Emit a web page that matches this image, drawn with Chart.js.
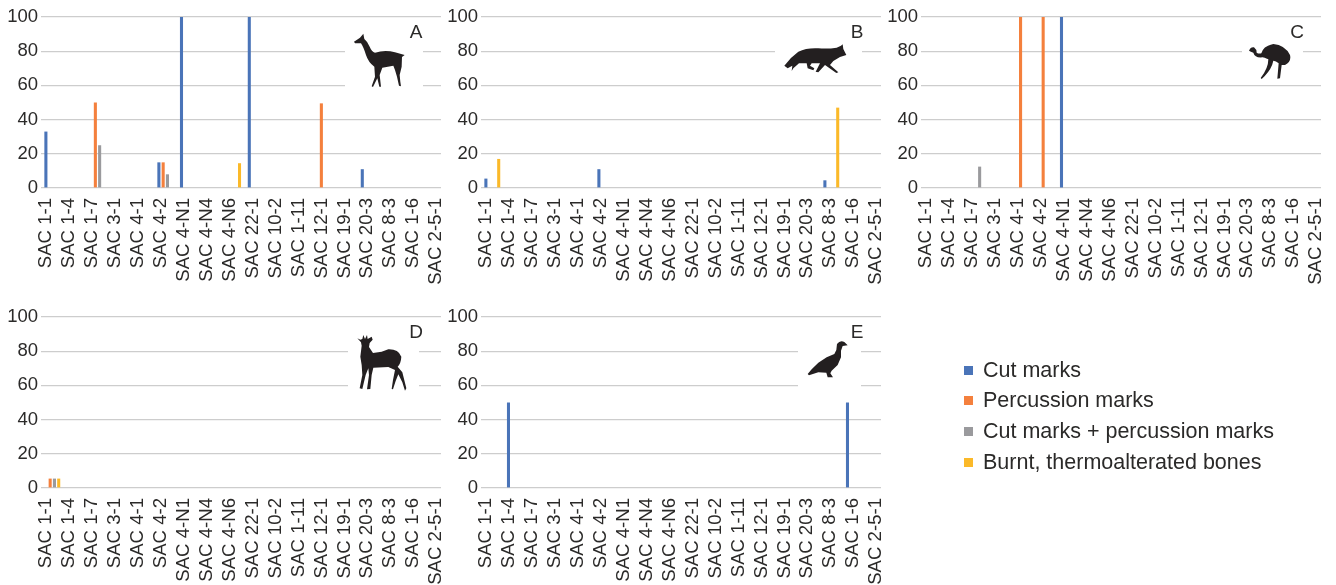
<!DOCTYPE html>
<html>
<head>
<meta charset="utf-8">
<title>Bone surface modifications</title>
<script src="https://cdn.jsdelivr.net/npm/chart.js@4"></script>
<style>
    html, body { margin: 0; padding: 0; background: #fff; overflow: hidden; }
    body { width: 1336px; height: 585px; position: relative; font-family: "Liberation Sans", sans-serif; color: #2b2a29; }
    canvas { position: absolute; }
    #overlay { position: absolute; left: 0; top: 0; }
    #overlay text { font: 19px "Liberation Sans", sans-serif; fill: #2b2a29; text-anchor: middle; }
    .legend-row { position: absolute; left: 964px; font-size: 21.5px; line-height: 20px; white-space: nowrap; }
    .legend-row i { position: absolute; left: 0; top: 6px; width: 9px; height: 9px; }
    .legend-row span { position: absolute; left: 19px; top: 0; }
</style>
</head>
<body>
<canvas id="chart-a" width="450" height="285" style="left:0;top:0"></canvas>
<canvas id="chart-b" width="450" height="285" style="left:440px;top:0"></canvas>
<canvas id="chart-c" width="450" height="285" style="left:880px;top:0"></canvas>
<canvas id="chart-d" width="450" height="285" style="left:0;top:300px"></canvas>
<canvas id="chart-e" width="450" height="285" style="left:440px;top:300px"></canvas>

<svg id="overlay" width="1336" height="585">
    <!-- white boxes behind the animals cut the gridlines -->
    <g fill="#fff">
        <rect x="345" y="28" width="78" height="67"/>
        <rect x="775" y="44" width="87" height="32"/>
        <rect x="1242" y="28" width="61" height="48"/>
        <rect x="348" y="326" width="71" height="78"/>
        <rect x="798" y="326" width="63" height="64"/>
    </g>
    <g fill="#231f20">
        <path transform="translate(345 25) scale(.3333)" d="M27 50 L45 38 L55 26 L58 42 Q68 50 74 65 Q80 80 90 83 Q120 74 150 82 L179 90 L171 96 L170 125 L164 150 L166 170 L168 184 L162 182 L156 155 L150 135 L145 122 L112 128 L104 150 L108 185 L103 185 L97 160 L84 186 L80 184 L90 155 L88 125 Q70 112 63 90 Q55 65 48 55 L30 55 Z"/>
        <path transform="translate(775 35) scale(.3333)" d="M28 92 Q45 68 70 50 Q95 38 130 40 Q160 42 185 38 L198 32 L203 28 L205 42 L214 60 L195 66 L175 78 L165 90 L190 112 L184 114 L150 90 L130 112 L122 110 L135 85 L110 85 L105 92 L118 100 L115 106 L98 100 L95 85 L72 85 L55 100 L50 108 L52 92 L38 100 Z"/>
        <path transform="translate(1240 30) scale(.3333)" d="M27 62 Q32 50 42 52 Q50 58 50 68 Q56 72 64 70 Q70 48 100 42 Q135 45 150 75 Q155 95 135 105 L125 105 L120 145 L112 146 L116 100 Q108 92 100 92 Q95 120 65 147 L62 144 Q85 115 85 88 Q72 82 68 82 Q45 85 40 68 Q32 65 27 62 Z"/>
        <path transform="translate(345 325) scale(.3333)" d="M37 40 L46 44 L52 42 L55 30 L60 42 L66 30 L68 42 L80 35 L83 44 L74 54 L72 66 L84 84 L110 80 L130 73 Q160 72 169 95 Q168 115 158 125 L172 142 L184 190 L180 197 L172 172 L160 148 L152 168 L144 193 L140 192 L144 165 L150 135 L130 126 L85 128 L80 150 L76 192 L66 193 L72 150 L70 130 L62 150 L52 192 L44 190 L52 150 L50 120 L46 95 L50 62 L48 52 Z"/>
        <path transform="translate(795 330) scale(.3333)" d="M38 132 L50 118 L70 98 L95 82 L118 72 L124 60 L126 42 Q135 30 148 36 L158 46 L143 48 L138 62 L138 82 L128 105 L110 122 L106 130 L114 142 L98 142 L94 128 L70 127 L42 136 Z"/>
    </g>
    <text x="416" y="38">A</text>
    <text x="857" y="38">B</text>
    <text x="1297" y="38">C</text>
    <text x="416" y="338">D</text>
    <text x="857" y="338">E</text>
</svg>

<div id="legend"></div>

<script>
const sites = ['SAC 1-1', 'SAC 1-4', 'SAC 1-7', 'SAC 3-1', 'SAC 4-1', 'SAC 4-2', 'SAC 4-N1', 'SAC 4-N4', 'SAC 4-N6',
    'SAC 22-1', 'SAC 10-2', 'SAC 1-11', 'SAC 12-1', 'SAC 19-1', 'SAC 20-3', 'SAC 8-3', 'SAC 1-6', 'SAC 2-5-1'];

const seriesNames = ['Cut marks', 'Percussion marks', 'Cut marks + percussion marks', 'Burnt, thermoalterated bones'];
const seriesColors = ['#4a74b8', '#f4803d', '#9a9a9d', '#fbb929'];

const aCut    = [33, 0, 0, 0, 0, 15, 100, 0, 0, 100, 0, 0, 0, 0, 11, 0, 0, 0];
const aPerc   = [0, 0, 50, 0, 0, 15, 0, 0, 0, 0, 0, 0, 49.5, 0, 0, 0, 0, 0];
const aBoth   = [0, 0, 25, 0, 0, 8, 0, 0, 0, 0, 0, 0, 0, 0, 0, 0, 0, 0];
const aBurnt  = [0, 0, 0, 0, 0, 0, 0, 0, 14.5, 0, 0, 0, 0, 0, 0, 0, 0, 0];

const bCut    = [5.5, 0, 0, 0, 0, 11, 0, 0, 0, 0, 0, 0, 0, 0, 0, 4.5, 0, 0];
const bPerc   = [0, 0, 0, 0, 0, 0, 0, 0, 0, 0, 0, 0, 0, 0, 0, 0, 0, 0];
const bBoth   = [0, 0, 0, 0, 0, 0, 0, 0, 0, 0, 0, 0, 0, 0, 0, 0, 0, 0];
const bBurnt  = [17, 0, 0, 0, 0, 0, 0, 0, 0, 0, 0, 0, 0, 0, 0, 47, 0, 0];

const cCut    = [0, 0, 0, 0, 0, 0, 100, 0, 0, 0, 0, 0, 0, 0, 0, 0, 0, 0];
const cPerc   = [0, 0, 0, 0, 100, 100, 0, 0, 0, 0, 0, 0, 0, 0, 0, 0, 0, 0];
const cBoth   = [0, 0, 12.5, 0, 0, 0, 0, 0, 0, 0, 0, 0, 0, 0, 0, 0, 0, 0];
const cBurnt  = [0, 0, 0, 0, 0, 0, 0, 0, 0, 0, 0, 0, 0, 0, 0, 0, 0, 0];

const dCut    = [0, 0, 0, 0, 0, 0, 0, 0, 0, 0, 0, 0, 0, 0, 0, 0, 0, 0];
const dPerc   = [5.5, 0, 0, 0, 0, 0, 0, 0, 0, 0, 0, 0, 0, 0, 0, 0, 0, 0];
const dBoth   = [5.5, 0, 0, 0, 0, 0, 0, 0, 0, 0, 0, 0, 0, 0, 0, 0, 0, 0];
const dBurnt  = [5.5, 0, 0, 0, 0, 0, 0, 0, 0, 0, 0, 0, 0, 0, 0, 0, 0, 0];

const eCut    = [0, 50, 0, 0, 0, 0, 0, 0, 0, 0, 0, 0, 0, 0, 0, 0, 50, 0];
const ePerc   = [0, 0, 0, 0, 0, 0, 0, 0, 0, 0, 0, 0, 0, 0, 0, 0, 0, 0];
const eBoth   = [0, 0, 0, 0, 0, 0, 0, 0, 0, 0, 0, 0, 0, 0, 0, 0, 0, 0];
const eBurnt  = [0, 0, 0, 0, 0, 0, 0, 0, 0, 0, 0, 0, 0, 0, 0, 0, 0, 0];

const textColor = '#2b2a29';
const gridColor = '#cdcdcd';

// the bars and the tick labels do not share a spacing in the figure, so each gets its own axis
const barStep = 22.6;
const labelStep = 22.93;
const plotWidth = 400;

function createPanel(canvasId, series) {
    new Chart(document.getElementById(canvasId), {
        type: 'bar',
        data: {
            datasets: series.map((values, i) => ({
                label: seriesNames[i],
                data: values.map((v, x) => ({ x: x, y: v })),
                backgroundColor: seriesColors[i],
                xAxisID: 'x',
                yAxisID: 'y',
                categoryPercentage: 0.756,
                barPercentage: 0.72
            }))
        },
        options: {
            responsive: false,
            animation: false,
            events: [],
            layout: { padding: { top: 17, right: 9, left: 0, bottom: 0 } },
            plugins: { legend: { display: false }, tooltip: { enabled: false } },
            scales: {
                x: {
                    type: 'linear',
                    display: false,
                    offset: false,
                    min: -0.5,
                    max: -0.5 + plotWidth / barStep
                },
                labels: {
                    axis: 'x',
                    type: 'linear',
                    position: 'bottom',
                    offset: false,
                    min: -5.3 / labelStep,
                    max: (plotWidth - 5.3) / labelStep,
                    afterBuildTicks: scale => { scale.ticks = sites.map((_, i) => ({ value: i })); },
                    afterFit: scale => {
                        scale.height = 97;
                        scale.paddingLeft = 0;
                        scale.paddingRight = 0;
                    },
                    grid: { display: false },
                    border: { display: false },
                    ticks: {
                        autoSkip: false,
                        minRotation: 90,
                        maxRotation: 90,
                        padding: 2,
                        color: textColor,
                        font: { family: '"Liberation Sans", sans-serif', size: 18.6 },
                        callback: value => sites[value]
                    }
                },
                y: {
                    min: 0,
                    max: 100,
                    afterFit: scale => { scale.width = 41; },
                    grid: { color: gridColor, lineWidth: 1.2, drawTicks: false },
                    border: { display: false },
                    ticks: {
                        stepSize: 10,
                        autoSkip: false,
                        padding: 3,
                        color: textColor,
                        font: { family: '"Liberation Sans", sans-serif', size: 18.5 },
                        callback: value => (value % 20 === 0 ? value : null)
                    }
                }
            }
        }
    });
}

createPanel('chart-a', [aCut, aPerc, aBoth, aBurnt]);
createPanel('chart-b', [bCut, bPerc, bBoth, bBurnt]);
createPanel('chart-c', [cCut, cPerc, cBoth, cBurnt]);
createPanel('chart-d', [dCut, dPerc, dBoth, dBurnt]);
createPanel('chart-e', [eCut, ePerc, eBoth, eBurnt]);

// legend rows under panel C
const legend = document.getElementById('legend');
const legendTops = [360, 390, 421, 452];
seriesNames.forEach((name, i) => {
    const row = document.createElement('div');
    row.className = 'legend-row';
    row.style.top = legendTops[i] + 'px';
    row.innerHTML = `<i style="background:${seriesColors[i]}"></i><span>${name}</span>`;
    legend.appendChild(row);
});
</script>
</body>
</html>
